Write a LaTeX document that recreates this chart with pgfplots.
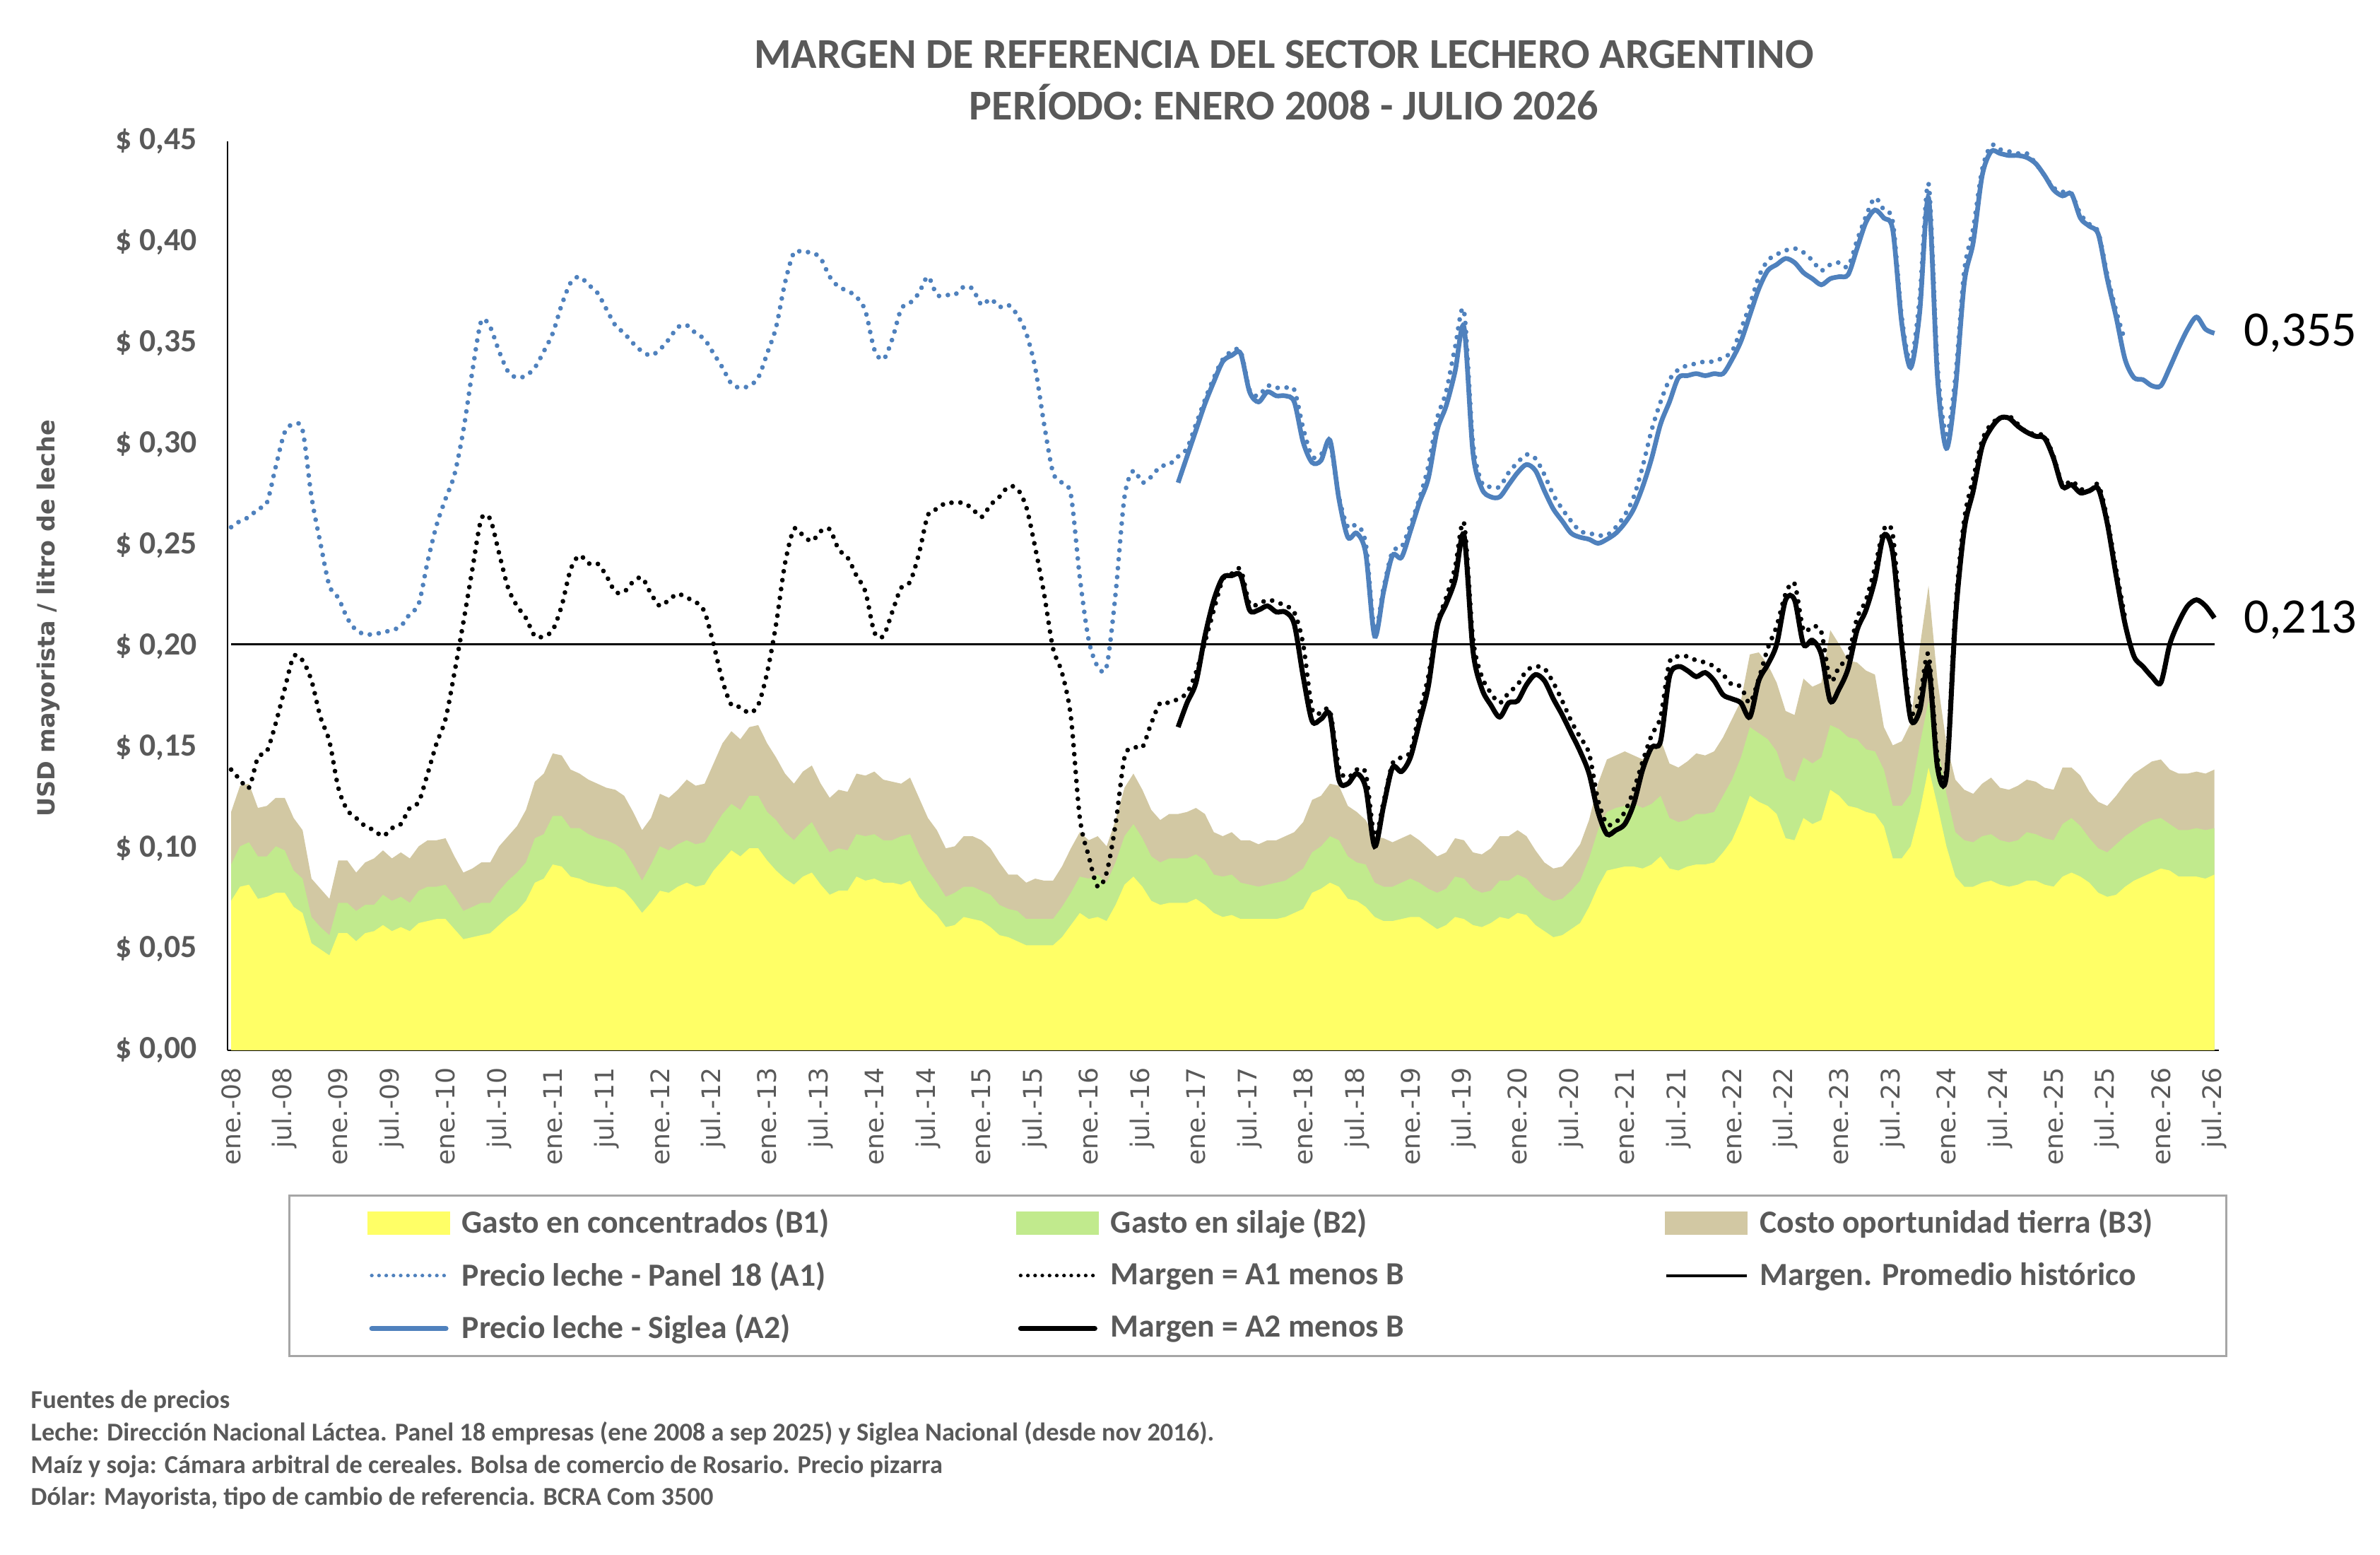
\documentclass[border=0pt]{standalone}
\usepackage{fontspec}
\setmainfont{Carlito}
\newfontfamily\dejavu{DejaVu Sans}
\usepackage{pgfplots}
\usepackage{pgfplotstable}
\pgfplotsset{compat=1.18}
\definecolor{cyel}{HTML}{FFFF66}
\definecolor{cgrn}{HTML}{C1EA8D}
\definecolor{ctan}{HTML}{D2C8A3}
\definecolor{cblu}{HTML}{4F81BD}
\definecolor{tgray}{HTML}{595959}
\definecolor{lgray}{HTML}{A6A6A6}

% m = months since Jan 2008; b1 = B1 top, b12 = B1+B2 top, tot = B1+B2+B3 top
\pgfplotstableread{
m b1 b12 tot
0 0.074 0.092 0.118
1 0.081 0.101 0.131
2 0.082 0.103 0.132
3 0.075 0.096 0.120
4 0.076 0.096 0.121
5 0.078 0.101 0.125
6 0.078 0.099 0.125
7 0.071 0.089 0.115
8 0.068 0.085 0.109
9 0.053 0.066 0.085
10 0.050 0.061 0.080
11 0.047 0.057 0.075
12 0.058 0.073 0.094
13 0.058 0.073 0.094
14 0.054 0.069 0.088
15 0.058 0.072 0.093
16 0.059 0.072 0.095
17 0.062 0.077 0.099
18 0.059 0.074 0.095
19 0.061 0.076 0.098
20 0.059 0.073 0.095
21 0.063 0.079 0.101
22 0.064 0.081 0.104
23 0.065 0.081 0.104
24 0.065 0.082 0.105
25 0.060 0.076 0.096
26 0.055 0.069 0.088
27 0.056 0.071 0.090
28 0.057 0.073 0.093
29 0.058 0.073 0.093
30 0.062 0.079 0.101
31 0.066 0.084 0.106
32 0.069 0.088 0.111
33 0.074 0.093 0.119
34 0.083 0.105 0.133
35 0.085 0.107 0.137
36 0.092 0.116 0.147
37 0.091 0.116 0.146
38 0.086 0.110 0.139
39 0.085 0.110 0.137
40 0.083 0.107 0.134
41 0.082 0.105 0.132
42 0.081 0.104 0.130
43 0.081 0.102 0.129
44 0.079 0.099 0.126
45 0.074 0.092 0.118
46 0.068 0.084 0.109
47 0.073 0.092 0.115
48 0.079 0.101 0.127
49 0.078 0.099 0.125
50 0.081 0.102 0.129
51 0.083 0.104 0.134
52 0.081 0.102 0.131
53 0.082 0.103 0.132
54 0.089 0.110 0.142
55 0.094 0.117 0.152
56 0.099 0.122 0.158
57 0.096 0.119 0.154
58 0.100 0.126 0.160
59 0.100 0.126 0.161
60 0.094 0.118 0.152
61 0.089 0.114 0.145
62 0.085 0.108 0.137
63 0.082 0.104 0.132
64 0.086 0.109 0.138
65 0.088 0.113 0.141
66 0.082 0.105 0.132
67 0.077 0.098 0.125
68 0.079 0.100 0.129
69 0.079 0.099 0.128
70 0.086 0.107 0.137
71 0.084 0.106 0.136
72 0.085 0.107 0.138
73 0.083 0.104 0.134
74 0.083 0.104 0.133
75 0.082 0.106 0.132
76 0.084 0.107 0.135
77 0.076 0.097 0.125
78 0.071 0.089 0.115
79 0.067 0.083 0.109
80 0.061 0.076 0.100
81 0.062 0.078 0.101
82 0.066 0.081 0.106
83 0.065 0.081 0.106
84 0.064 0.079 0.104
85 0.061 0.077 0.100
86 0.057 0.072 0.093
87 0.056 0.070 0.087
88 0.054 0.069 0.087
89 0.052 0.065 0.083
90 0.052 0.065 0.085
91 0.052 0.065 0.084
92 0.052 0.065 0.084
93 0.056 0.071 0.091
94 0.062 0.078 0.100
95 0.068 0.086 0.108
96 0.065 0.085 0.104
97 0.066 0.087 0.106
98 0.064 0.083 0.101
99 0.072 0.093 0.114
100 0.082 0.106 0.130
101 0.086 0.112 0.137
102 0.081 0.105 0.129
103 0.074 0.096 0.119
104 0.072 0.093 0.114
105 0.073 0.095 0.117
106 0.073 0.095 0.117
107 0.073 0.095 0.118
108 0.075 0.097 0.120
109 0.072 0.094 0.117
110 0.068 0.087 0.108
111 0.066 0.086 0.106
112 0.067 0.087 0.108
113 0.065 0.083 0.104
114 0.065 0.082 0.104
115 0.065 0.081 0.102
116 0.065 0.082 0.104
117 0.065 0.083 0.104
118 0.066 0.084 0.106
119 0.068 0.087 0.108
120 0.070 0.090 0.113
121 0.078 0.098 0.124
122 0.080 0.101 0.126
123 0.083 0.106 0.132
124 0.081 0.104 0.131
125 0.075 0.096 0.121
126 0.074 0.093 0.118
127 0.071 0.092 0.114
128 0.066 0.083 0.106
129 0.064 0.081 0.105
130 0.064 0.081 0.103
131 0.065 0.083 0.105
132 0.066 0.085 0.107
133 0.066 0.083 0.104
134 0.063 0.080 0.100
135 0.060 0.078 0.096
136 0.062 0.080 0.098
137 0.066 0.086 0.105
138 0.065 0.085 0.104
139 0.062 0.080 0.098
140 0.061 0.078 0.097
141 0.063 0.079 0.100
142 0.066 0.084 0.106
143 0.065 0.084 0.106
144 0.068 0.087 0.109
145 0.067 0.085 0.106
146 0.062 0.080 0.099
147 0.059 0.076 0.093
148 0.056 0.074 0.090
149 0.057 0.075 0.091
150 0.060 0.079 0.096
151 0.063 0.084 0.102
152 0.071 0.095 0.114
153 0.081 0.109 0.132
154 0.089 0.118 0.144
155 0.090 0.120 0.146
156 0.091 0.121 0.148
157 0.091 0.122 0.146
158 0.090 0.120 0.144
159 0.092 0.122 0.149
160 0.096 0.126 0.154
161 0.090 0.115 0.142
162 0.089 0.113 0.140
163 0.091 0.114 0.143
164 0.092 0.117 0.147
165 0.092 0.117 0.146
166 0.093 0.118 0.148
167 0.098 0.126 0.155
168 0.104 0.134 0.164
169 0.114 0.145 0.173
170 0.126 0.160 0.196
171 0.123 0.157 0.197
172 0.121 0.154 0.191
173 0.117 0.148 0.182
174 0.105 0.135 0.168
175 0.104 0.133 0.166
176 0.115 0.145 0.184
177 0.112 0.142 0.180
178 0.114 0.145 0.182
179 0.129 0.161 0.208
180 0.126 0.159 0.201
181 0.121 0.155 0.193
182 0.120 0.154 0.192
183 0.118 0.149 0.188
184 0.117 0.148 0.186
185 0.111 0.139 0.160
186 0.095 0.121 0.151
187 0.095 0.121 0.153
188 0.101 0.127 0.162
189 0.118 0.151 0.199
190 0.140 0.173 0.230
191 0.121 0.151 0.183
192 0.101 0.127 0.152
193 0.086 0.108 0.134
194 0.081 0.104 0.129
195 0.081 0.103 0.127
196 0.083 0.106 0.132
197 0.084 0.107 0.135
198 0.082 0.104 0.130
199 0.081 0.103 0.129
200 0.082 0.104 0.131
201 0.084 0.108 0.134
202 0.084 0.107 0.133
203 0.082 0.105 0.130
204 0.081 0.104 0.129
205 0.086 0.112 0.140
206 0.088 0.115 0.140
207 0.086 0.111 0.136
208 0.083 0.105 0.128
209 0.078 0.100 0.123
210 0.076 0.098 0.121
211 0.077 0.102 0.126
212 0.081 0.106 0.132
213 0.084 0.109 0.137
214 0.086 0.112 0.140
215 0.088 0.114 0.143
216 0.090 0.115 0.144
217 0.089 0.112 0.139
218 0.086 0.109 0.137
219 0.086 0.109 0.137
220 0.086 0.110 0.138
221 0.085 0.109 0.137
222 0.087 0.110 0.139
}\areas

% Panel 18 price (A1) and margin A1 - B
\pgfplotstableread{
m a1 ma1
0 0.259 0.139
1 0.262 0.134
2 0.264 0.130
3 0.268 0.145
4 0.271 0.148
5 0.289 0.162
6 0.306 0.179
7 0.310 0.195
8 0.307 0.193
9 0.274 0.183
10 0.251 0.165
11 0.230 0.153
12 0.224 0.130
13 0.214 0.119
14 0.208 0.115
15 0.206 0.111
16 0.206 0.109
17 0.207 0.106
18 0.208 0.110
19 0.210 0.112
20 0.216 0.120
21 0.221 0.123
22 0.242 0.137
23 0.260 0.152
24 0.273 0.164
25 0.285 0.187
26 0.307 0.212
27 0.336 0.238
28 0.361 0.263
29 0.358 0.263
30 0.346 0.246
31 0.336 0.229
32 0.333 0.220
33 0.334 0.214
34 0.338 0.205
35 0.346 0.205
36 0.355 0.208
37 0.369 0.220
38 0.380 0.238
39 0.383 0.245
40 0.379 0.241
41 0.375 0.241
42 0.367 0.235
43 0.359 0.227
44 0.355 0.227
45 0.350 0.232
46 0.346 0.234
47 0.344 0.226
48 0.347 0.220
49 0.352 0.223
50 0.358 0.226
51 0.359 0.224
52 0.355 0.222
53 0.352 0.217
54 0.345 0.201
55 0.338 0.183
56 0.330 0.171
57 0.328 0.170
58 0.329 0.167
59 0.333 0.171
60 0.345 0.187
61 0.358 0.211
62 0.380 0.241
63 0.395 0.258
64 0.395 0.255
65 0.395 0.252
66 0.392 0.257
67 0.383 0.258
68 0.378 0.248
69 0.376 0.244
70 0.373 0.235
71 0.366 0.227
72 0.347 0.207
73 0.342 0.205
74 0.352 0.217
75 0.367 0.229
76 0.370 0.232
77 0.375 0.246
78 0.383 0.265
79 0.374 0.268
80 0.374 0.271
81 0.374 0.271
82 0.378 0.271
83 0.377 0.268
84 0.369 0.264
85 0.372 0.270
86 0.368 0.274
87 0.369 0.279
88 0.364 0.278
89 0.355 0.269
90 0.338 0.249
91 0.310 0.226
92 0.286 0.199
93 0.281 0.187
94 0.275 0.165
95 0.234 0.115
96 0.203 0.096
97 0.190 0.081
98 0.190 0.088
99 0.226 0.112
100 0.274 0.145
101 0.287 0.150
102 0.281 0.150
103 0.284 0.162
104 0.289 0.172
105 0.290 0.172
106 0.294 0.174
107 0.298 0.177
108 0.310 0.187
109 0.322 0.202
110 0.333 0.218
111 0.342 0.233
112 0.346 0.236
113 0.346 0.238
114 0.327 0.221
115 0.324 0.221
116 0.329 0.223
117 0.328 0.222
118 0.328 0.220
119 0.327 0.217
120 0.308 0.201
121 0.294 0.169
122 0.295 0.167
123 0.300 0.168
124 0.274 0.140
125 0.259 0.135
126 0.260 0.139
127 0.251 0.137
128 0.208 0.106
129 0.229 0.123
130 0.247 0.142
131 0.249 0.145
132 0.260 0.148
133 0.273 0.167
134 0.289 0.185
135 0.313 0.211
136 0.326 0.224
137 0.348 0.239
138 0.366 0.261
139 0.301 0.204
140 0.281 0.185
141 0.279 0.177
142 0.279 0.172
143 0.286 0.177
144 0.291 0.181
145 0.295 0.188
146 0.293 0.190
147 0.285 0.189
148 0.275 0.182
149 0.268 0.173
150 0.262 0.163
151 0.257 0.155
152 0.256 0.147
153 0.255 0.124
154 0.255 0.112
155 0.259 0.113
156 0.265 0.118
157 0.274 0.129
158 0.289 0.143
159 0.307 0.156
160 0.321 0.165
161 0.332 0.192
162 0.337 0.195
163 0.339 0.195
164 0.340 0.193
165 0.341 0.192
166 0.341 0.190
167 0.343 0.186
168 0.346 0.181
169 0.357 0.180
170 0.369 0.172
171 0.383 0.184
172 0.391 0.199
173 0.394 0.210
174 0.396 0.226
175 0.397 0.231
176 0.395 0.208
177 0.391 0.210
178 0.386 0.207
179 0.389 0.183
180 0.390 0.190
181 0.388 0.195
182 0.401 0.214
183 0.413 0.223
184 0.422 0.239
185 0.416 0.258
186 0.410 0.255
187 0.363 0.205
188 0.341 0.168
189 0.372 0.174
190 0.429 0.196
191 0.339 0.145
192 0.305 0.139
193 0.333 0.218
194 0.386 0.263
195 0.407 0.283
196 0.436 0.302
197 0.448 0.310
198 0.446 0.313
199 0.445 0.314
200 0.444 0.310
201 0.444 0.306
202 0.439 0.305
203 0.433 0.304
204 0.427 0.294
205 0.425 0.280
206 0.424 0.282
207 0.414 0.278
208 0.409 0.277
209 0.405 0.280
210 0.384 0.263
211 0.366 0.238
212 0.351 0.214
}\panel

% Siglea price (A2) and margin A2 - B, from Nov 2016
\pgfplotstableread{
m a2 ma2
106 0.281 0.160
107 0.294 0.172
108 0.307 0.182
109 0.320 0.205
110 0.331 0.223
111 0.341 0.234
112 0.344 0.235
113 0.345 0.235
114 0.326 0.218
115 0.321 0.218
116 0.326 0.220
117 0.324 0.217
118 0.324 0.217
119 0.321 0.211
120 0.301 0.185
121 0.291 0.163
122 0.292 0.164
123 0.302 0.166
124 0.273 0.134
125 0.254 0.132
126 0.256 0.137
127 0.246 0.130
128 0.205 0.101
129 0.227 0.121
130 0.245 0.140
131 0.244 0.138
132 0.257 0.145
133 0.271 0.162
134 0.283 0.180
135 0.307 0.210
136 0.319 0.221
137 0.336 0.233
138 0.358 0.255
139 0.296 0.198
140 0.278 0.179
141 0.274 0.171
142 0.274 0.165
143 0.280 0.172
144 0.286 0.173
145 0.290 0.181
146 0.287 0.186
147 0.277 0.183
148 0.268 0.174
149 0.262 0.166
150 0.256 0.157
151 0.254 0.148
152 0.253 0.137
153 0.251 0.118
154 0.253 0.107
155 0.256 0.109
156 0.261 0.112
157 0.268 0.122
158 0.279 0.139
159 0.293 0.150
160 0.310 0.153
161 0.321 0.185
162 0.333 0.190
163 0.334 0.188
164 0.335 0.185
165 0.334 0.187
166 0.335 0.183
167 0.335 0.176
168 0.342 0.174
169 0.351 0.172
170 0.364 0.165
171 0.377 0.183
172 0.386 0.191
173 0.389 0.201
174 0.392 0.223
175 0.390 0.223
176 0.385 0.201
177 0.382 0.203
178 0.379 0.196
179 0.382 0.173
180 0.383 0.179
181 0.384 0.189
182 0.397 0.208
183 0.410 0.218
184 0.416 0.233
185 0.412 0.255
186 0.406 0.246
187 0.360 0.201
188 0.338 0.164
189 0.365 0.168
190 0.422 0.190
191 0.333 0.140
192 0.298 0.136
193 0.327 0.213
194 0.380 0.258
195 0.400 0.277
196 0.433 0.299
197 0.445 0.308
198 0.444 0.313
199 0.443 0.313
200 0.443 0.309
201 0.442 0.306
202 0.439 0.304
203 0.433 0.303
204 0.426 0.293
205 0.423 0.279
206 0.424 0.280
207 0.412 0.276
208 0.408 0.277
209 0.404 0.278
210 0.382 0.261
211 0.363 0.235
212 0.342 0.211
213 0.333 0.195
214 0.332 0.190
215 0.329 0.185
216 0.329 0.182
217 0.338 0.201
218 0.348 0.212
219 0.357 0.220
220 0.363 0.223
221 0.357 0.220
222 0.355 0.214
}\siglea

\begin{document}
\begin{tikzpicture}
\useasboundingbox (0,0) rectangle (33.68cm,22cm);
\begin{axis}[
  at={(3.22cm,7.14cm)}, anchor=south west,
  scale only axis, width=28.18cm, height=12.86cm,
  xmin=-0.4, xmax=222.5, ymin=0, ymax=0.45,
  axis x line*=bottom, axis y line*=left,
  axis line style={line width=0.8pt, black, -},
  major tick length=0pt,
  clip=false,
  xtick={0,6,...,222},
  xticklabels={ene.-08,jul.-08,ene.-09,jul.-09,ene.-10,jul.-10,ene.-11,jul.-11,ene.-12,jul.-12,ene.-13,jul.-13,ene.-14,jul.-14,ene.-15,jul.-15,ene.-16,jul.-16,ene.-17,jul.-17,ene.-18,jul.-18,ene.-19,jul.-19,ene.-20,jul.-20,ene.-21,jul.-21,ene.-22,jul.-22,ene.-23,jul.-23,ene.-24,jul.-24,ene.-25,jul.-25,ene.-26,jul.-26},
  xticklabel style={rotate=90, anchor=east, inner sep=0pt, font=\dejavu\fontsize{10.3}{12}\selectfont, text=tgray},
  xticklabel shift=0.24cm,
  ytick={0,0.05,0.1,0.15,0.2,0.25,0.3,0.35,0.4,0.45},
  yticklabels={{\$ 0,00},{\$ 0,05},{\$ 0,10},{\$ 0,15},{\$ 0,20},{\$ 0,25},{\$ 0,30},{\$ 0,35},{\$ 0,40},{\$ 0,45}},
  yticklabel style={anchor=east, inner sep=0pt, font=\fontsize{13}{15}\selectfont\bfseries, text=tgray},
  yticklabel shift=0.43cm,
  legend columns=3,
  legend cell align=left,
  legend style={at={(0.0305,-0.1586)}, anchor=north west,
    draw=lgray, line width=0.9pt, fill=white,
    inner xsep=1.1cm, inner ysep=0.12cm,
    font=\fontsize{13}{15.6}\selectfont\bfseries,
    nodes={text=tgray},
    row sep=6.1pt,
    /tikz/every odd column/.append style={column sep=0.1cm}},
]
\addplot[fill=ctan, draw=none, forget plot] table[x=m,y=tot]{\areas} \closedcycle;
\addplot[fill=cgrn, draw=none, forget plot] table[x=m,y=b12]{\areas} \closedcycle;
\addplot[fill=cyel, draw=none, forget plot] table[x=m,y=b1]{\areas} \closedcycle;
\addplot[cblu, line width=1.9pt, line cap=round, dash pattern=on 0.01pt off 3.6pt, smooth, tension=0.5, forget plot] table[x=m,y=a1]{\panel};
\addplot[black, line width=1.9pt, line cap=round, dash pattern=on 0.01pt off 3.6pt, smooth, tension=0.5, forget plot] table[x=m,y=ma1]{\panel};
\addplot[black, line width=1pt, forget plot] coordinates {(0,0.201) (222,0.201)};
\addplot[cblu, line width=1.9pt, smooth, tension=0.5, forget plot] table[x=m,y=a2]{\siglea};
\addplot[black, line width=2pt, smooth, tension=0.5, forget plot] table[x=m,y=ma2]{\siglea};

\addlegendimage{legend image code/.code={\fill[cyel] (0cm,-0.15cm) rectangle (1.14cm,0.15cm);}}
\addlegendentry{\makebox[7.77cm][l]{Gasto en concentrados (B1)}}
\addlegendimage{legend image code/.code={\fill[cgrn] (0cm,-0.15cm) rectangle (1.14cm,0.15cm);}}
\addlegendentry{\makebox[7.77cm][l]{Gasto en silaje (B2)}}
\addlegendimage{legend image code/.code={\fill[ctan] (0cm,-0.15cm) rectangle (1.14cm,0.15cm);}}
\addlegendentry{\makebox[5.43cm][l]{Costo oportunidad tierra (B3)}}
\addlegendimage{legend image code/.code={\draw[cblu, line width=1.5pt, line cap=round, dash pattern=on 0.01pt off 2.9pt] (0.05cm,0cm) -- (1.1cm,0cm);}}
\addlegendentry{\makebox[7.77cm][l]{Precio leche - Panel 18 (A1)}}
\addlegendimage{legend image code/.code={\draw[black, line width=1.5pt, line cap=round, dash pattern=on 0.01pt off 2.9pt] (0.05cm,0cm) -- (1.1cm,0cm);}}
\addlegendentry{\makebox[7.77cm][l]{Margen = A1 menos B}}
\addlegendimage{legend image code/.code={\draw[black, line width=1pt] (0cm,0cm) -- (1.14cm,0cm);}}
\addlegendentry{\makebox[5.43cm][l]{Margen. Promedio histórico}}
\addlegendimage{legend image code/.code={\draw[cblu, line width=2pt, line cap=round] (0.05cm,0cm) -- (1.1cm,0cm);}}
\addlegendentry{\makebox[7.77cm][l]{Precio leche - Siglea (A2)}}
\addlegendimage{legend image code/.code={\draw[black, line width=2pt, line cap=round] (0.05cm,0cm) -- (1.1cm,0cm);}}
\addlegendentry{\makebox[7.77cm][l]{Margen = A2 menos B}}

\node[anchor=west, inner sep=0pt, xshift=0.41cm, font=\fontsize{20}{24}\selectfont] at (axis cs:222,0.355) {0,355};
\node[anchor=west, inner sep=0pt, xshift=0.41cm, font=\fontsize{20}{24}\selectfont] at (axis cs:222,0.213) {0,213};
\end{axis}

\node[anchor=base, inner sep=0pt, font=\fontsize{17.1}{21}\selectfont\bfseries, text=tgray] at (18.17cm,21.03cm) {MARGEN DE REFERENCIA DEL SECTOR LECHERO ARGENTINO};
\node[anchor=base, inner sep=0pt, font=\fontsize{17.1}{21}\selectfont\bfseries, text=tgray] at (18.17cm,20.30cm) {PERÍODO: ENERO 2008 - JULIO 2026};
\node[rotate=90, inner sep=0pt, font=\dejavu\bfseries\fontsize{9.5}{11}\selectfont, text=tgray] at (0.68cm,13.25cm) {USD mayorista / litro de leche};
\begin{scope}[every node/.style={anchor=west, inner sep=0pt, font=\fontsize{10.35}{12.4}\selectfont\bfseries, text=tgray}]
\node at (0.43cm,2.17cm) {Fuentes de precios};
\node at (0.43cm,1.72cm) {Leche: Dirección Nacional Láctea. Panel 18 empresas (ene 2008 a sep 2025) y Siglea Nacional (desde nov 2016).};
\node at (0.43cm,1.25cm) {Maíz y soja: Cámara arbitral de cereales. Bolsa de comercio de Rosario. Precio pizarra};
\node at (0.43cm,0.80cm) {Dólar: Mayorista, tipo de cambio de referencia. BCRA Com 3500};
\end{scope}
\end{tikzpicture}
\end{document}
